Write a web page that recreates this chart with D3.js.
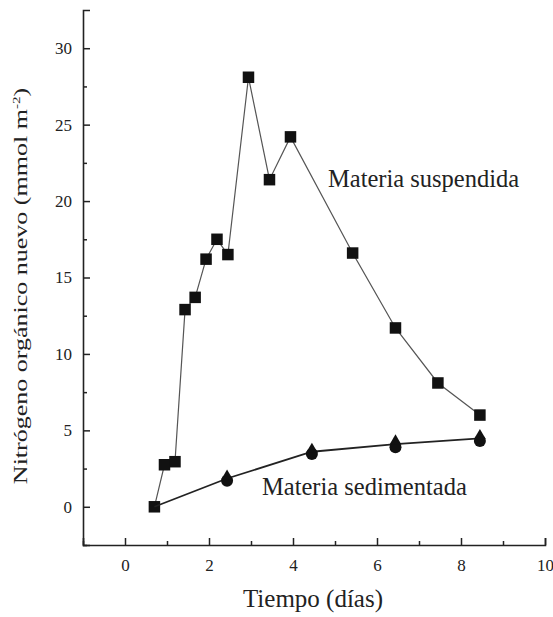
<!DOCTYPE html>
<html>
<head>
<meta charset="utf-8">
<script src="https://cdn.jsdelivr.net/npm/d3@7"></script>
<style>
  body { margin: 0; background: #fff; }
  svg text { font-family: "Liberation Serif", "DejaVu Serif", serif; fill: #222; }
</style>
</head>
<body>
<svg id="chart" width="553" height="617"></svg>
<script>
// suspended matter (squares)
const suspDays = [0.7, 0.94, 1.19, 1.43, 1.67, 1.93, 2.19, 2.45, 2.94, 3.44, 3.94, 5.42, 6.44, 7.45, 8.45];
const suspValues = [0, 2.75, 2.95, 12.9, 13.7, 16.2, 17.5, 16.5, 28.1, 21.4, 24.2, 16.6, 11.7, 8.1, 6.0];

// sedimented matter (triangles and circles)
const sedDays = [0.7, 2.43, 4.45, 6.44, 8.45];
const sedTriangles = [0, 2.0, 3.75, 4.3, 4.65];
const sedCircles = [0, 1.7, 3.45, 3.9, 4.3];

const xTicks = [0, 2, 4, 6, 8, 10];
const yTicks = [0, 5, 10, 15, 20, 25, 30];

const svg = d3.select('#chart');
const plotLeft = 83, plotRight = 545, plotTop = 10, plotBottom = 545;

const x = d3.scaleLinear().domain([-1, 10]).range([plotLeft, plotRight]);
const y = d3.scaleLinear().domain([-2.5, 32.5]).range([plotBottom, plotTop]);

// axes with inward ticks
const xMinor = d3.range(-1, 10, 1).filter(v => !xTicks.includes(v));
const yMinor = d3.range(-2.5, 32.5, 2.5).filter(v => !yTicks.includes(v));

const xAxis = svg.append('g').attr('transform', `translate(0,${plotBottom})`);
xAxis.call(d3.axisBottom(x).tickValues(xTicks).tickSize(-7).tickPadding(14).tickFormat(d3.format('d')));
xAxis.append('g').attr('class', 'minor').call(d3.axisBottom(x).tickValues(xMinor).tickSize(-4).tickFormat(''));

const yAxis = svg.append('g').attr('transform', `translate(${plotLeft},0)`);
yAxis.call(d3.axisLeft(y).tickValues(yTicks).tickSize(-7).tickPadding(11).tickFormat(d3.format('d')));
yAxis.append('g').attr('class', 'minor').call(d3.axisLeft(y).tickValues(yMinor).tickSize(-4).tickFormat(''));

svg.selectAll('.minor .domain').remove();
svg.selectAll('.domain').attr('stroke', '#222').attr('stroke-width', 1.6);
svg.selectAll('.tick line').attr('stroke', '#222').attr('stroke-width', 1.5);
svg.selectAll('.tick text')
  .style('font-family', '"Liberation Serif", serif')
  .style('font-size', '17px')
  .attr('fill', '#333');

// suspended series
const susp = suspDays.map((d, i) => ({ x: d, y: suspValues[i] }));
svg.append('path')
  .datum(susp)
  .attr('fill', 'none')
  .attr('stroke', '#555')
  .attr('stroke-width', 1.2)
  .attr('d', d3.line().x(d => x(d.x)).y(d => y(d.y)));

svg.selectAll('.sq')
  .data(susp)
  .enter().append('rect')
  .attr('class', 'sq')
  .attr('x', d => x(d.x) - 5.75)
  .attr('y', d => y(d.y) - 5.75)
  .attr('width', 11.5)
  .attr('height', 11.5)
  .attr('fill', '#111');

// sedimented series
const sed = sedDays.map((d, i) => ({ x: d, tri: sedTriangles[i], circ: sedCircles[i] }));
svg.append('path')
  .datum(sed)
  .attr('fill', 'none')
  .attr('stroke', '#222')
  .attr('stroke-width', 1.8)
  .attr('d', d3.line().x(d => x(d.x)).y(d => y((d.tri + d.circ) / 2)));

const sedMarks = sed.slice(1);
svg.selectAll('.circ')
  .data(sedMarks)
  .enter().append('circle')
  .attr('class', 'circ')
  .attr('cx', d => x(d.x))
  .attr('cy', d => y(d.circ))
  .attr('r', 6)
  .attr('fill', '#111');

svg.selectAll('.tri')
  .data(sedMarks)
  .enter().append('path')
  .attr('class', 'tri')
  .attr('transform', d => `translate(${x(d.x)},${y(d.tri)})`)
  .attr('d', d3.symbol().type(d3.symbolTriangle).size(60))
  .attr('fill', '#111');

// labels
svg.append('text')
  .attr('x', 328).attr('y', 187)
  .style('font-size', '24.5px')
  .text('Materia suspendida');

svg.append('text')
  .attr('x', 262).attr('y', 495)
  .style('font-size', '24.5px')
  .text('Materia sedimentada');

svg.append('text')
  .attr('x', 313).attr('y', 607)
  .attr('text-anchor', 'middle')
  .style('font-size', '25px')
  .text('Tiempo (días)');

// y title is drawn stretched along its length, like the scanned figure
const yl = svg.append('text')
  .attr('transform', 'translate(27,286) scale(1,1.37) rotate(-90)')
  .attr('text-anchor', 'middle')
  .style('font-size', '19px');
yl.append('tspan').text('Nitrógeno orgánico nuevo (mmol m');
yl.append('tspan').attr('dy', -7).style('font-size', '11px').text('-2');
yl.append('tspan').attr('dy', 7).text(')');
</script>
</body>
</html>
